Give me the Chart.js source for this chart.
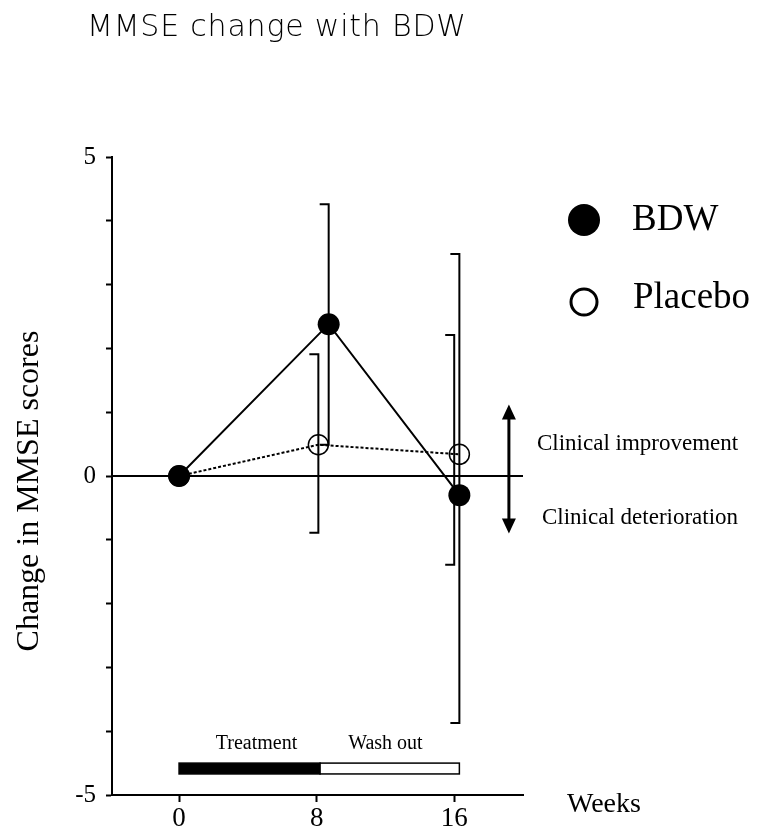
<!DOCTYPE html>
<html>
<head>
<meta charset="utf-8">
<title>MMSE change with BDW</title>
<script src="https://cdn.jsdelivr.net/npm/chart.js@4/dist/chart.umd.min.js"></script>
<style>
  html, body { margin: 0; padding: 0; background: #fff; }
  canvas { display: block; }
</style>
</head>
<body>
<canvas id="chart" width="759" height="833"></canvas>
<script>
// Semanas mostradas en el eje X
const weekTicks = [0, 8, 16];
const yTickLabels = [-5, 0, 5];

// BDW: media y extremos de la barra de error
const bdwWeeks = [0, 8.7, 16.3];
const bdwChange = [0, 2.38, -0.30];
const bdwHigh = [null, 4.26, 3.48];
const bdwLow = [null, 0.49, -3.87];

// Placebo
const placeboWeeks = [0, 8.1, 16.3];
const placeboChange = [0, 0.49, 0.34];
const placeboBarWeeks = [null, 8.1, 16.0];
const placeboHigh = [null, 1.91, 2.21];
const placeboLow = [null, -0.89, -1.39];

// Fases del estudio (barra inferior)
const phaseNames = ['Treatment', 'Wash out'];
const phaseStart = [0, 8.2];
const phaseEnd = [8.2, 16.3];
const phaseFill = ['#000', '#fff'];

const serif = '"Liberation Serif", "Times New Roman", serif';

// Barras de error con el remate hacia la izquierda
function drawErrorBars(ctx, xs, ys, weeks, high, low) {
    const cap = 9;
    ctx.save();
    ctx.strokeStyle = '#000';
    ctx.lineWidth = 2;
    for (let i = 0; i < weeks.length; i++) {
        if (high[i] === null) continue;
        const px = xs.getPixelForValue(weeks[i]);
        const top = ys.getPixelForValue(high[i]);
        const bot = ys.getPixelForValue(low[i]);
        ctx.beginPath();
        ctx.moveTo(px - cap, top);
        ctx.lineTo(px, top);
        ctx.lineTo(px, bot);
        ctx.lineTo(px - cap, bot);
        ctx.stroke();
    }
    ctx.restore();
}

const extras = {
    id: 'extras',
    beforeDatasetsDraw(chart) {
        const { ctx, chartArea, scales } = chart;
        const y0 = scales.y.getPixelForValue(0);
        // Línea de cambio cero
        ctx.save();
        ctx.strokeStyle = '#000';
        ctx.lineWidth = 2;
        ctx.beginPath();
        ctx.moveTo(chartArea.left, y0);
        ctx.lineTo(chartArea.right, y0);
        ctx.stroke();
        ctx.restore();
    },
    afterDatasetsDraw(chart) {
        const { ctx, scales } = chart;
        const xs = scales.x, ys = scales.y;

        drawErrorBars(ctx, xs, ys, bdwWeeks, bdwHigh, bdwLow);
        drawErrorBars(ctx, xs, ys, placeboBarWeeks, placeboHigh, placeboLow);

        // Barra de fases: tratamiento / lavado
        ctx.save();
        const barTop = ys.getPixelForValue(-4.5);
        const barBot = ys.getPixelForValue(-4.67);
        for (let i = 0; i < phaseNames.length; i++) {
            const x1 = xs.getPixelForValue(phaseStart[i]);
            const x2 = xs.getPixelForValue(phaseEnd[i]);
            ctx.fillStyle = phaseFill[i];
            ctx.fillRect(x1, barTop, x2 - x1, barBot - barTop);
            ctx.strokeStyle = '#000';
            ctx.lineWidth = 1.5;
            ctx.strokeRect(x1, barTop, x2 - x1, barBot - barTop);
            ctx.fillStyle = '#000';
            ctx.font = '20px ' + serif;
            ctx.textAlign = 'center';
            ctx.textBaseline = 'middle';
            const mid = xs.getPixelForValue(i === 0 ? 4.5 : 12.0);
            ctx.fillText(phaseNames[i], mid, ys.getPixelForValue(-4.2));
        }
        ctx.restore();

        // Flecha doble: mejoría / deterioro
        ctx.save();
        const ax = xs.getPixelForValue(19.18);
        const aTop = ys.getPixelForValue(1.12);
        const aBot = ys.getPixelForValue(-0.9);
        const head = 15, half = 7;
        ctx.strokeStyle = '#000';
        ctx.fillStyle = '#000';
        ctx.lineWidth = 3;
        ctx.beginPath();
        ctx.moveTo(ax, aTop + head - 2);
        ctx.lineTo(ax, aBot - head + 2);
        ctx.stroke();
        ctx.beginPath();
        ctx.moveTo(ax, aTop);
        ctx.lineTo(ax - half, aTop + head);
        ctx.lineTo(ax + half, aTop + head);
        ctx.closePath();
        ctx.fill();
        ctx.beginPath();
        ctx.moveTo(ax, aBot);
        ctx.lineTo(ax - half, aBot - head);
        ctx.lineTo(ax + half, aBot - head);
        ctx.closePath();
        ctx.fill();
        ctx.restore();
    },
    afterDraw(chart) {
        const { ctx } = chart;
        ctx.save();

        // Título
        ctx.fillStyle = '#000';
        ctx.font = '200 30px "DejaVu Sans", sans-serif';
        ctx.textAlign = 'left';
        ctx.textBaseline = 'alphabetic';
        ctx.letterSpacing = '0.8px';
        ctx.fillText('MMSE change with BDW', 87, 36);
        ctx.letterSpacing = '0px';

        // Leyenda
        ctx.fillStyle = '#000';
        ctx.beginPath();
        ctx.arc(584, 220, 16, 0, Math.PI * 2);
        ctx.fill();
        ctx.strokeStyle = '#000';
        ctx.lineWidth = 3;
        ctx.beginPath();
        ctx.arc(584, 302, 13, 0, Math.PI * 2);
        ctx.stroke();
        ctx.font = '37px ' + serif;
        ctx.textBaseline = 'alphabetic';
        ctx.fillText('BDW', 632, 230);
        ctx.fillText('Placebo', 633, 308);

        // Textos de la flecha
        ctx.font = '23px ' + serif;
        ctx.textBaseline = 'middle';
        ctx.fillText('Clinical improvement', 537, 444);
        ctx.fillText('Clinical deterioration', 542, 518);

        // Título del eje X
        ctx.font = '28px ' + serif;
        ctx.textBaseline = 'alphabetic';
        ctx.fillText('Weeks', 567, 812);

        // Título del eje Y
        ctx.translate(30, 491);
        ctx.rotate(-Math.PI / 2);
        ctx.font = '32px ' + serif;
        ctx.textAlign = 'center';
        ctx.textBaseline = 'middle';
        ctx.fillText('Change in MMSE scores', 0, 0);
        ctx.restore();
    }
};

const ctx = document.getElementById('chart').getContext('2d');
new Chart(ctx, {
    type: 'line',
    data: {
        datasets: [{
            label: 'BDW',
            data: bdwWeeks.map((w, i) => ({ x: w, y: bdwChange[i] })),
            borderColor: '#000',
            borderWidth: 2,
            pointRadius: 11,
            pointBackgroundColor: '#000',
            pointBorderColor: '#000',
            pointBorderWidth: 0,
            tension: 0
        }, {
            label: 'Placebo',
            data: placeboWeeks.map((w, i) => ({ x: w, y: placeboChange[i] })),
            borderColor: '#000',
            borderWidth: 2,
            borderDash: [3, 2],
            pointRadius: 10,
            pointBackgroundColor: 'rgba(0,0,0,0)',
            pointBorderColor: '#000',
            pointBorderWidth: 1.5,
            tension: 0
        }]
    },
    options: {
        responsive: false,
        animation: false,
        devicePixelRatio: 1,
        layout: { padding: { top: 157, right: 236, bottom: 0, left: 0 } },
        plugins: {
            legend: { display: false },
            tooltip: { enabled: false },
            title: { display: false }
        },
        scales: {
            x: {
                type: 'linear',
                min: -3.9,
                max: 20,
                afterBuildTicks: s => { s.ticks = weekTicks.map(v => ({ value: v })); },
                afterFit: s => { s.height = 38; },
                grid: { drawOnChartArea: false, tickLength: 7, tickWidth: 2, tickColor: '#000' },
                border: { color: '#000', width: 2 },
                ticks: {
                    color: '#000',
                    font: { family: serif, size: 27 },
                    padding: 1,
                    autoSkip: false,
                    maxRotation: 0
                }
            },
            y: {
                min: -5,
                max: 5,
                afterFit: s => { s.width = 112; },
                grid: { drawOnChartArea: false, tickLength: 6, tickWidth: 2, tickColor: '#000' },
                border: { color: '#000', width: 2 },
                ticks: {
                    stepSize: 1,
                    color: '#000',
                    font: { family: serif, size: 25 },
                    padding: 10,
                    callback: v => yTickLabels.includes(v) ? String(v) : ''
                }
            }
        }
    },
    plugins: [extras]
});
</script>
</body>
</html>
